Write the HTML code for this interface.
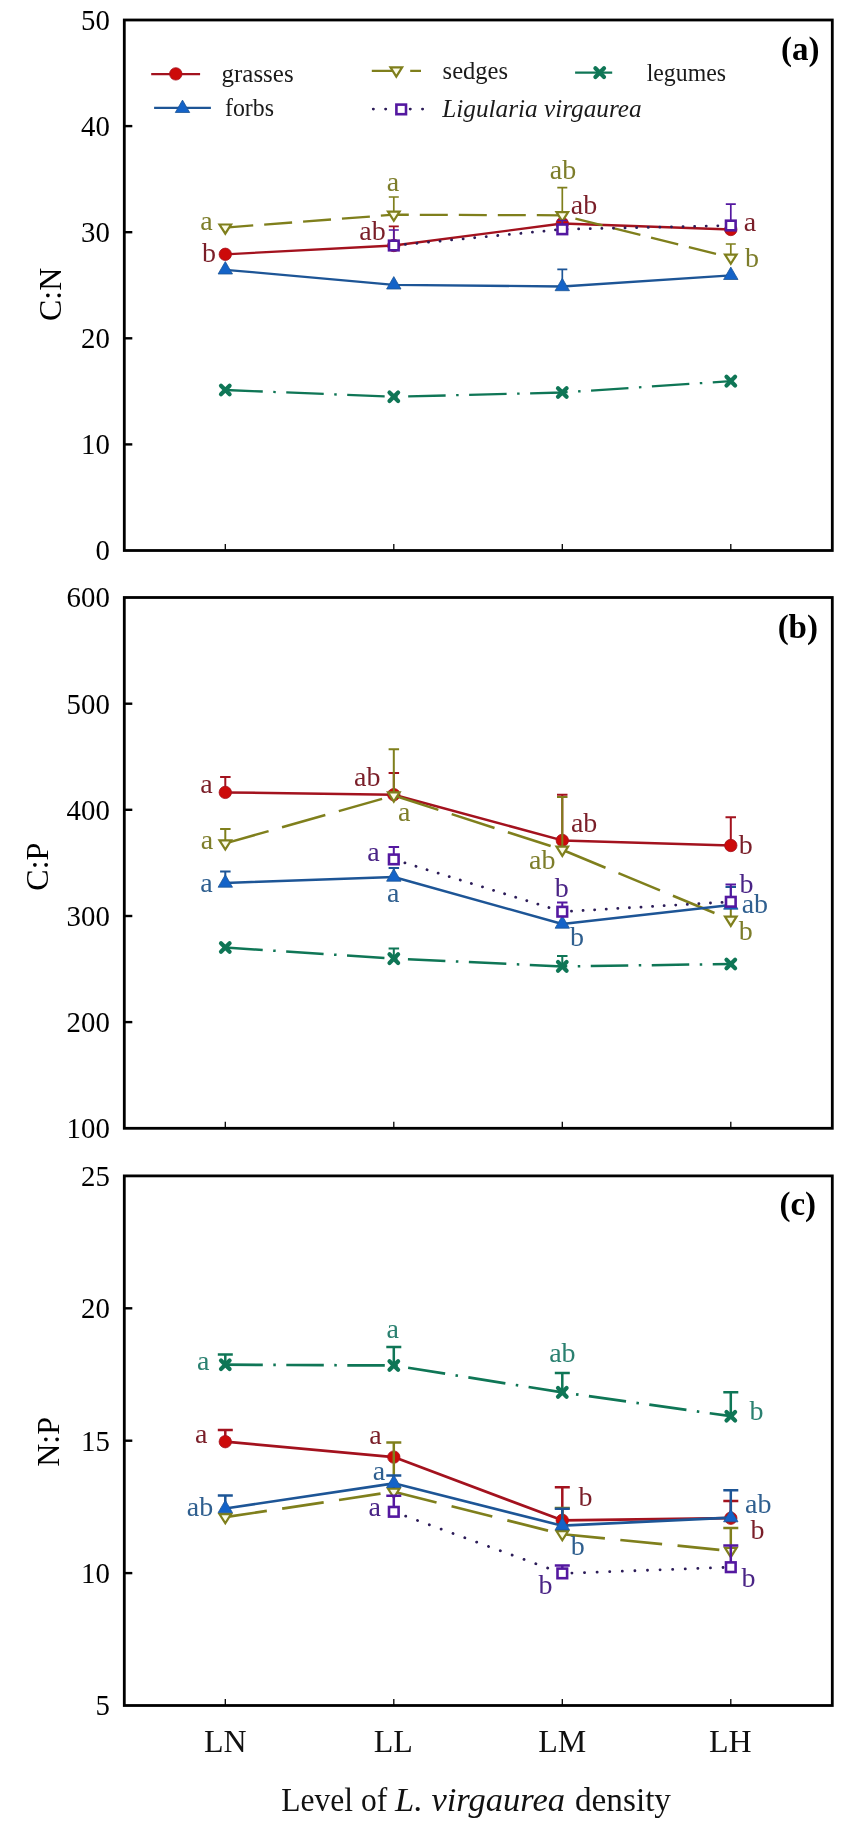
<!DOCTYPE html><html><head><meta charset="utf-8"><title>Figure</title>
<style>html,body{margin:0;padding:0;background:#fff;}body{width:844px;height:1830px;overflow:hidden;}svg{display:block;font-family:"Liberation Serif", serif;filter:blur(0.45px);}</style></head><body>
<svg width="844" height="1830" viewBox="0 0 844 1830">
<rect width="844" height="1830" fill="#fff"/>
<path d="M393.8,245.5V226.3M388.8,226.3H398.8" stroke="#a3121e" stroke-width="1.7" fill="none"/>
<polyline points="225.3,254.3 393.8,245.5 562.3,223.5 730.8,229.5" fill="none" stroke="#a3121e" stroke-width="2.3" stroke-linejoin="round" stroke-linecap="butt"/>
<circle cx="225.3" cy="254.3" r="6.2" fill="#cc0a0a" stroke="#a3121e" stroke-width="0.8"/>
<circle cx="393.8" cy="245.5" r="6.2" fill="#cc0a0a" stroke="#a3121e" stroke-width="0.8"/>
<circle cx="562.3" cy="223.5" r="6.2" fill="#cc0a0a" stroke="#a3121e" stroke-width="0.8"/>
<circle cx="730.8" cy="229.5" r="6.2" fill="#cc0a0a" stroke="#a3121e" stroke-width="0.8"/>
<path d="M393.8,214.7V197.0M388.8,197.0H398.8" stroke="#7f7f1c" stroke-width="1.7" fill="none"/>
<path d="M562.3,215.3V187.7M557.3,187.7H567.3" stroke="#7f7f1c" stroke-width="1.7" fill="none"/>
<path d="M730.8,257.7V244.0M725.8,244.0H735.8" stroke="#7f7f1c" stroke-width="1.7" fill="none"/>
<polyline points="225.3,227.6 393.8,214.7 562.3,215.3 730.8,257.7" fill="none" stroke="#7f7f1c" stroke-width="2.3" stroke-linejoin="round" stroke-linecap="butt" stroke-dasharray="28 11"/>
<polygon points="219.5,224.5 231.1,224.5 225.3,233.7" fill="#fbfbe6" stroke="#7f7f1c" stroke-width="2.2" stroke-linejoin="miter"/>
<polygon points="388.0,211.6 399.6,211.6 393.8,220.8" fill="#fbfbe6" stroke="#7f7f1c" stroke-width="2.2" stroke-linejoin="miter"/>
<polygon points="556.5,212.2 568.1,212.2 562.3,221.4" fill="#fbfbe6" stroke="#7f7f1c" stroke-width="2.2" stroke-linejoin="miter"/>
<polygon points="725.0,254.6 736.6,254.6 730.8,263.8" fill="#fbfbe6" stroke="#7f7f1c" stroke-width="2.2" stroke-linejoin="miter"/>
<path d="M562.3,286.5V269.4M557.3,269.4H567.3" stroke="#1d5596" stroke-width="1.7" fill="none"/>
<polyline points="225.3,269.8 393.8,284.8 562.3,286.5 730.8,275.3" fill="none" stroke="#1d5596" stroke-width="2.3" stroke-linejoin="round" stroke-linecap="butt"/>
<polygon points="225.3,261.6 218.1,274.0 232.5,274.0" fill="#1463c8" stroke="#1d5596" stroke-width="0.8" stroke-linejoin="round"/>
<polygon points="393.8,276.6 386.6,289.0 401.0,289.0" fill="#1463c8" stroke="#1d5596" stroke-width="0.8" stroke-linejoin="round"/>
<polygon points="562.3,278.3 555.1,290.7 569.5,290.7" fill="#1463c8" stroke="#1d5596" stroke-width="0.8" stroke-linejoin="round"/>
<polygon points="730.8,267.1 723.6,279.5 738.0,279.5" fill="#1463c8" stroke="#1d5596" stroke-width="0.8" stroke-linejoin="round"/>
<polyline points="225.3,390.0 393.8,396.8 562.3,392.5 730.8,381.1" fill="none" stroke="#0f7656" stroke-width="2.3" stroke-linejoin="round" stroke-linecap="butt" stroke-dasharray="37.5 10.5 2.5 10.5"/>
<path d="M221.0,385.7L229.6,394.3M229.6,385.7L221.0,394.3" stroke="#0f7656" stroke-width="4.2" stroke-linecap="round" fill="none"/>
<path d="M389.5,392.5L398.1,401.1M398.1,392.5L389.5,401.1" stroke="#0f7656" stroke-width="4.2" stroke-linecap="round" fill="none"/>
<path d="M558.0,388.2L566.6,396.8M566.6,388.2L558.0,396.8" stroke="#0f7656" stroke-width="4.2" stroke-linecap="round" fill="none"/>
<path d="M726.5,376.8L735.1,385.4M735.1,376.8L726.5,385.4" stroke="#0f7656" stroke-width="4.2" stroke-linecap="round" fill="none"/>
<path d="M393.8,245.5V230.0M388.8,230.0H398.8" stroke="#5418a0" stroke-width="1.7" fill="none"/>
<path d="M562.3,229.3V220.5M557.3,220.5H567.3" stroke="#5418a0" stroke-width="1.7" fill="none"/>
<path d="M730.8,225.5V204.2M725.8,204.2H735.8" stroke="#5418a0" stroke-width="1.7" fill="none"/>
<polyline points="393.8,245.5 562.3,229.3 730.8,225.5" fill="none" stroke="#2c1c58" stroke-width="2.8" stroke-linejoin="round" stroke-linecap="round" stroke-dasharray="0.1 11.5"/>
<rect x="389.0" y="240.7" width="9.6" height="9.6" fill="#ffffff" stroke="#5418a0" stroke-width="2.6"/>
<rect x="557.5" y="224.5" width="9.6" height="9.6" fill="#ffffff" stroke="#5418a0" stroke-width="2.6"/>
<rect x="726.0" y="220.7" width="9.6" height="9.6" fill="#ffffff" stroke="#5418a0" stroke-width="2.6"/>
<text x="206.5" y="229.5" fill="#7d7d2a" font-size="28" text-anchor="middle">a</text>
<text x="209.0" y="262.0" fill="#7a1e28" font-size="28" text-anchor="middle">b</text>
<text x="393.0" y="191.0" fill="#7d7d2a" font-size="28" text-anchor="middle">a</text>
<text x="372.5" y="240.0" fill="#7a1e28" font-size="28" text-anchor="middle">ab</text>
<text x="563.0" y="179.0" fill="#7d7d2a" font-size="28" text-anchor="middle">ab</text>
<text x="584.0" y="214.0" fill="#7a1e28" font-size="28" text-anchor="middle">ab</text>
<text x="750.0" y="231.0" fill="#7a1e28" font-size="28" text-anchor="middle">a</text>
<text x="752.0" y="267.0" fill="#7d7d2a" font-size="28" text-anchor="middle">b</text>
<rect x="124.3" y="20.0" width="708.0" height="530.5" fill="none" stroke="#000" stroke-width="2.8"/>
<text transform="translate(109.8,560.4) scale(0.96,1)" fill="#000" font-size="30" text-anchor="end">0</text>
<path d="M124.3,444.4H132.3" stroke="#000" stroke-width="2.4"/>
<text transform="translate(109.8,454.3) scale(0.96,1)" fill="#000" font-size="30" text-anchor="end">10</text>
<path d="M124.3,338.3H132.3" stroke="#000" stroke-width="2.4"/>
<text transform="translate(109.8,348.2) scale(0.96,1)" fill="#000" font-size="30" text-anchor="end">20</text>
<path d="M124.3,232.2H132.3" stroke="#000" stroke-width="2.4"/>
<text transform="translate(109.8,242.1) scale(0.96,1)" fill="#000" font-size="30" text-anchor="end">30</text>
<path d="M124.3,126.1H132.3" stroke="#000" stroke-width="2.4"/>
<text transform="translate(109.8,136.0) scale(0.96,1)" fill="#000" font-size="30" text-anchor="end">40</text>
<text transform="translate(109.8,29.9) scale(0.96,1)" fill="#000" font-size="30" text-anchor="end">50</text>
<path d="M225.3,550.5V544.0" stroke="#000" stroke-width="1.3"/>
<path d="M393.8,550.5V544.0" stroke="#000" stroke-width="1.3"/>
<path d="M562.3,550.5V544.0" stroke="#000" stroke-width="1.3"/>
<path d="M730.8,550.5V544.0" stroke="#000" stroke-width="1.3"/>
<text transform="translate(61.0,294.3) rotate(-90)" font-size="32" text-anchor="middle" fill="#000">C:N</text>
<text x="800.2" y="60.3" fill="#000" font-size="33" text-anchor="middle" font-weight="bold">(a)</text>
<path d="M225.3,792.4V777.0M220.1,777.0H230.6" stroke="#a3121e" stroke-width="2.0" fill="none"/>
<path d="M393.8,794.7V773.1M388.6,773.1H399.1" stroke="#a3121e" stroke-width="2.0" fill="none"/>
<path d="M562.3,840.4V794.8M557.0,794.8H567.5" stroke="#a3121e" stroke-width="2.0" fill="none"/>
<path d="M730.8,845.5V817.3M725.5,817.3H736.0" stroke="#a3121e" stroke-width="2.0" fill="none"/>
<polyline points="225.3,792.4 393.8,794.7 562.3,840.4 730.8,845.5" fill="none" stroke="#a3121e" stroke-width="2.5" stroke-linejoin="round" stroke-linecap="butt"/>
<circle cx="225.3" cy="792.4" r="6.2" fill="#cc0a0a" stroke="#a3121e" stroke-width="0.8"/>
<circle cx="393.8" cy="794.7" r="6.2" fill="#cc0a0a" stroke="#a3121e" stroke-width="0.8"/>
<circle cx="562.3" cy="840.4" r="6.2" fill="#cc0a0a" stroke="#a3121e" stroke-width="0.8"/>
<circle cx="730.8" cy="845.5" r="6.2" fill="#cc0a0a" stroke="#a3121e" stroke-width="0.8"/>
<path d="M225.3,843.4V829.0M220.1,829.0H230.6" stroke="#7f7f1c" stroke-width="2.0" fill="none"/>
<path d="M393.8,795.5V749.3M388.6,749.3H399.1" stroke="#7f7f1c" stroke-width="2.0" fill="none"/>
<path d="M562.3,849.8V797.0M557.0,797.0H567.5" stroke="#7f7f1c" stroke-width="2.0" fill="none"/>
<path d="M730.8,919.8V905.0M725.5,905.0H736.0" stroke="#7f7f1c" stroke-width="2.0" fill="none"/>
<polyline points="225.3,843.4 393.8,795.5 562.3,849.8 730.8,919.8" fill="none" stroke="#7f7f1c" stroke-width="2.5" stroke-linejoin="round" stroke-linecap="butt" stroke-dasharray="45 14"/>
<polygon points="219.5,840.3 231.1,840.3 225.3,849.5" fill="#fbfbe6" stroke="#7f7f1c" stroke-width="2.2" stroke-linejoin="miter"/>
<polygon points="388.0,792.4 399.6,792.4 393.8,801.6" fill="#fbfbe6" stroke="#7f7f1c" stroke-width="2.2" stroke-linejoin="miter"/>
<polygon points="556.5,846.7 568.1,846.7 562.3,855.9" fill="#fbfbe6" stroke="#7f7f1c" stroke-width="2.2" stroke-linejoin="miter"/>
<polygon points="725.0,916.7 736.6,916.7 730.8,925.9" fill="#fbfbe6" stroke="#7f7f1c" stroke-width="2.2" stroke-linejoin="miter"/>
<path d="M225.3,883.0V871.6M220.1,871.6H230.6" stroke="#1d5596" stroke-width="2.0" fill="none"/>
<path d="M393.8,877.0V868.0M388.6,868.0H399.1" stroke="#1d5596" stroke-width="2.0" fill="none"/>
<path d="M730.8,905.0V887.0M725.5,887.0H736.0" stroke="#1d5596" stroke-width="2.0" fill="none"/>
<polyline points="225.3,883.0 393.8,877.0 562.3,924.0 730.8,905.0" fill="none" stroke="#1d5596" stroke-width="2.5" stroke-linejoin="round" stroke-linecap="butt"/>
<polygon points="225.3,874.8 218.1,887.2 232.5,887.2" fill="#1463c8" stroke="#1d5596" stroke-width="0.8" stroke-linejoin="round"/>
<polygon points="393.8,868.8 386.6,881.2 401.0,881.2" fill="#1463c8" stroke="#1d5596" stroke-width="0.8" stroke-linejoin="round"/>
<polygon points="562.3,915.8 555.1,928.2 569.5,928.2" fill="#1463c8" stroke="#1d5596" stroke-width="0.8" stroke-linejoin="round"/>
<polygon points="730.8,896.8 723.6,909.2 738.0,909.2" fill="#1463c8" stroke="#1d5596" stroke-width="0.8" stroke-linejoin="round"/>
<path d="M393.8,958.6V948.6M388.6,948.6H399.1" stroke="#0f7656" stroke-width="2.0" fill="none"/>
<path d="M562.3,966.4V956.0M557.0,956.0H567.5" stroke="#0f7656" stroke-width="2.0" fill="none"/>
<polyline points="225.3,947.5 393.8,958.6 562.3,966.4 730.8,964.0" fill="none" stroke="#0f7656" stroke-width="2.5" stroke-linejoin="round" stroke-linecap="butt" stroke-dasharray="37.5 10.5 2.5 10.5"/>
<path d="M221.0,943.2L229.6,951.8M229.6,943.2L221.0,951.8" stroke="#0f7656" stroke-width="4.2" stroke-linecap="round" fill="none"/>
<path d="M389.5,954.3L398.1,962.9M398.1,954.3L389.5,962.9" stroke="#0f7656" stroke-width="4.2" stroke-linecap="round" fill="none"/>
<path d="M558.0,962.1L566.6,970.7M566.6,962.1L558.0,970.7" stroke="#0f7656" stroke-width="4.2" stroke-linecap="round" fill="none"/>
<path d="M726.5,959.7L735.1,968.3M735.1,959.7L726.5,968.3" stroke="#0f7656" stroke-width="4.2" stroke-linecap="round" fill="none"/>
<path d="M393.8,859.4V847.1M388.6,847.1H399.1" stroke="#5418a0" stroke-width="2.0" fill="none"/>
<path d="M562.3,911.7V902.6M557.0,902.6H567.5" stroke="#5418a0" stroke-width="2.0" fill="none"/>
<path d="M730.8,901.8V884.4M725.5,884.4H736.0" stroke="#5418a0" stroke-width="2.0" fill="none"/>
<polyline points="393.8,859.4 562.3,911.7 730.8,901.8" fill="none" stroke="#2c1c58" stroke-width="2.8" stroke-linejoin="round" stroke-linecap="round" stroke-dasharray="0.1 11.5"/>
<rect x="389.0" y="854.6" width="9.6" height="9.6" fill="#ffffff" stroke="#5418a0" stroke-width="2.6"/>
<rect x="557.5" y="906.9" width="9.6" height="9.6" fill="#ffffff" stroke="#5418a0" stroke-width="2.6"/>
<rect x="726.0" y="897.0" width="9.6" height="9.6" fill="#ffffff" stroke="#5418a0" stroke-width="2.6"/>
<text x="206.5" y="793.4" fill="#7a1e28" font-size="28" text-anchor="middle">a</text>
<text x="207.0" y="849.0" fill="#7d7d2a" font-size="28" text-anchor="middle">a</text>
<text x="206.5" y="892.0" fill="#2f5f8f" font-size="28" text-anchor="middle">a</text>
<text x="367.3" y="786.0" fill="#7a1e28" font-size="28" text-anchor="middle">ab</text>
<text x="404.3" y="821.0" fill="#7d7d2a" font-size="28" text-anchor="middle">a</text>
<text x="373.5" y="860.8" fill="#4a2486" font-size="28" text-anchor="middle">a</text>
<text x="393.2" y="902.0" fill="#2f5f8f" font-size="28" text-anchor="middle">a</text>
<text x="584.1" y="832.0" fill="#7a1e28" font-size="28" text-anchor="middle">ab</text>
<text x="542.3" y="869.0" fill="#7d7d2a" font-size="28" text-anchor="middle">ab</text>
<text x="561.8" y="897.0" fill="#4a2486" font-size="28" text-anchor="middle">b</text>
<text x="577.1" y="946.0" fill="#2f5f8f" font-size="28" text-anchor="middle">b</text>
<text x="745.8" y="854.0" fill="#7a1e28" font-size="28" text-anchor="middle">b</text>
<text x="746.6" y="893.0" fill="#4a2486" font-size="28" text-anchor="middle">b</text>
<text x="754.9" y="913.0" fill="#2f5f8f" font-size="28" text-anchor="middle">ab</text>
<text x="745.8" y="940.0" fill="#7d7d2a" font-size="28" text-anchor="middle">b</text>
<rect x="124.3" y="597.5" width="708.0" height="530.8" fill="none" stroke="#000" stroke-width="2.8"/>
<text transform="translate(109.8,1138.2) scale(0.96,1)" fill="#000" font-size="30" text-anchor="end">100</text>
<path d="M124.3,1022.1H132.3" stroke="#000" stroke-width="2.4"/>
<text transform="translate(109.8,1032.0) scale(0.96,1)" fill="#000" font-size="30" text-anchor="end">200</text>
<path d="M124.3,916.0H132.3" stroke="#000" stroke-width="2.4"/>
<text transform="translate(109.8,925.9) scale(0.96,1)" fill="#000" font-size="30" text-anchor="end">300</text>
<path d="M124.3,809.8H132.3" stroke="#000" stroke-width="2.4"/>
<text transform="translate(109.8,819.7) scale(0.96,1)" fill="#000" font-size="30" text-anchor="end">400</text>
<path d="M124.3,703.7H132.3" stroke="#000" stroke-width="2.4"/>
<text transform="translate(109.8,713.6) scale(0.96,1)" fill="#000" font-size="30" text-anchor="end">500</text>
<text transform="translate(109.8,607.4) scale(0.96,1)" fill="#000" font-size="30" text-anchor="end">600</text>
<path d="M225.3,1128.3V1121.8" stroke="#000" stroke-width="1.3"/>
<path d="M393.8,1128.3V1121.8" stroke="#000" stroke-width="1.3"/>
<path d="M562.3,1128.3V1121.8" stroke="#000" stroke-width="1.3"/>
<path d="M730.8,1128.3V1121.8" stroke="#000" stroke-width="1.3"/>
<text transform="translate(47.8,866.7) rotate(-90)" font-size="32" text-anchor="middle" fill="#000">C:P</text>
<text x="797.8" y="638.0" fill="#000" font-size="33" text-anchor="middle" font-weight="bold">(b)</text>
<path d="M225.3,1441.7V1430.1M217.8,1430.1H232.8" stroke="#a3121e" stroke-width="2.5" fill="none"/>
<path d="M562.3,1520.3V1487.2M554.8,1487.2H569.8" stroke="#a3121e" stroke-width="2.5" fill="none"/>
<path d="M730.8,1518.2V1501.0M723.3,1501.0H738.3" stroke="#a3121e" stroke-width="2.5" fill="none"/>
<polyline points="225.3,1441.7 393.8,1457.1 562.3,1520.3 730.8,1518.2" fill="none" stroke="#a3121e" stroke-width="2.7" stroke-linejoin="round" stroke-linecap="butt"/>
<circle cx="225.3" cy="1441.7" r="6.2" fill="#cc0a0a" stroke="#a3121e" stroke-width="0.8"/>
<circle cx="393.8" cy="1457.1" r="6.2" fill="#cc0a0a" stroke="#a3121e" stroke-width="0.8"/>
<circle cx="562.3" cy="1520.3" r="6.2" fill="#cc0a0a" stroke="#a3121e" stroke-width="0.8"/>
<circle cx="730.8" cy="1518.2" r="6.2" fill="#cc0a0a" stroke="#a3121e" stroke-width="0.8"/>
<path d="M393.8,1491.7V1442.5M386.3,1442.5H401.3" stroke="#7f7f1c" stroke-width="2.5" fill="none"/>
<path d="M562.3,1534.2V1508.0M554.8,1508.0H569.8" stroke="#7f7f1c" stroke-width="2.5" fill="none"/>
<path d="M730.8,1551.0V1527.9M723.3,1527.9H738.3" stroke="#7f7f1c" stroke-width="2.5" fill="none"/>
<polyline points="225.3,1517.2 393.8,1491.7 562.3,1534.2 730.8,1551.0" fill="none" stroke="#7f7f1c" stroke-width="2.7" stroke-linejoin="round" stroke-linecap="butt" stroke-dasharray="42 15.5"/>
<polygon points="219.5,1514.1 231.1,1514.1 225.3,1523.3" fill="#fbfbe6" stroke="#7f7f1c" stroke-width="2.2" stroke-linejoin="miter"/>
<polygon points="388.0,1488.6 399.6,1488.6 393.8,1497.8" fill="#fbfbe6" stroke="#7f7f1c" stroke-width="2.2" stroke-linejoin="miter"/>
<polygon points="556.5,1531.1 568.1,1531.1 562.3,1540.3" fill="#fbfbe6" stroke="#7f7f1c" stroke-width="2.2" stroke-linejoin="miter"/>
<polygon points="725.0,1547.9 736.6,1547.9 730.8,1557.1" fill="#fbfbe6" stroke="#7f7f1c" stroke-width="2.2" stroke-linejoin="miter"/>
<path d="M225.3,1508.5V1495.6M217.8,1495.6H232.8" stroke="#1d5596" stroke-width="2.5" fill="none"/>
<path d="M393.8,1483.3V1475.6M386.3,1475.6H401.3" stroke="#1d5596" stroke-width="2.5" fill="none"/>
<path d="M562.3,1525.7V1508.7M554.8,1508.7H569.8" stroke="#1d5596" stroke-width="2.5" fill="none"/>
<path d="M730.8,1517.6V1490.2M723.3,1490.2H738.3" stroke="#1d5596" stroke-width="2.5" fill="none"/>
<polyline points="225.3,1508.5 393.8,1483.3 562.3,1525.7 730.8,1517.6" fill="none" stroke="#1d5596" stroke-width="2.7" stroke-linejoin="round" stroke-linecap="butt"/>
<polygon points="225.3,1500.3 218.1,1512.7 232.5,1512.7" fill="#1463c8" stroke="#1d5596" stroke-width="0.8" stroke-linejoin="round"/>
<polygon points="393.8,1475.1 386.6,1487.5 401.0,1487.5" fill="#1463c8" stroke="#1d5596" stroke-width="0.8" stroke-linejoin="round"/>
<polygon points="562.3,1517.5 555.1,1529.9 569.5,1529.9" fill="#1463c8" stroke="#1d5596" stroke-width="0.8" stroke-linejoin="round"/>
<polygon points="730.8,1509.4 723.6,1521.8 738.0,1521.8" fill="#1463c8" stroke="#1d5596" stroke-width="0.8" stroke-linejoin="round"/>
<path d="M225.3,1364.7V1354.6M217.8,1354.6H232.8" stroke="#0f7656" stroke-width="2.5" fill="none"/>
<path d="M393.8,1365.5V1347.0M386.3,1347.0H401.3" stroke="#0f7656" stroke-width="2.5" fill="none"/>
<path d="M562.3,1392.4V1373.1M554.8,1373.1H569.8" stroke="#0f7656" stroke-width="2.5" fill="none"/>
<path d="M730.8,1416.2V1392.3M723.3,1392.3H738.3" stroke="#0f7656" stroke-width="2.5" fill="none"/>
<polyline points="225.3,1364.7 393.8,1365.5 562.3,1392.4 730.8,1416.2" fill="none" stroke="#0f7656" stroke-width="2.7" stroke-linejoin="round" stroke-linecap="butt" stroke-dasharray="37.5 10.5 2.5 10.5"/>
<path d="M221.0,1360.4L229.6,1369.0M229.6,1360.4L221.0,1369.0" stroke="#0f7656" stroke-width="4.2" stroke-linecap="round" fill="none"/>
<path d="M389.5,1361.2L398.1,1369.8M398.1,1361.2L389.5,1369.8" stroke="#0f7656" stroke-width="4.2" stroke-linecap="round" fill="none"/>
<path d="M558.0,1388.1L566.6,1396.7M566.6,1388.1L558.0,1396.7" stroke="#0f7656" stroke-width="4.2" stroke-linecap="round" fill="none"/>
<path d="M726.5,1411.9L735.1,1420.5M735.1,1411.9L726.5,1420.5" stroke="#0f7656" stroke-width="4.2" stroke-linecap="round" fill="none"/>
<path d="M393.8,1511.8V1495.7M386.3,1495.7H401.3" stroke="#5418a0" stroke-width="2.5" fill="none"/>
<path d="M562.3,1573.4V1565.5M554.8,1565.5H569.8" stroke="#5418a0" stroke-width="2.5" fill="none"/>
<path d="M730.8,1567.2V1545.6M723.3,1545.6H738.3" stroke="#5418a0" stroke-width="2.5" fill="none"/>
<polyline points="393.8,1511.8 562.3,1573.4 730.8,1567.2" fill="none" stroke="#2c1c58" stroke-width="2.8" stroke-linejoin="round" stroke-linecap="round" stroke-dasharray="0.1 12.5"/>
<rect x="389.0" y="1507.0" width="9.6" height="9.6" fill="#ffffff" stroke="#5418a0" stroke-width="2.6"/>
<rect x="557.5" y="1568.6" width="9.6" height="9.6" fill="#ffffff" stroke="#5418a0" stroke-width="2.6"/>
<rect x="726.0" y="1562.4" width="9.6" height="9.6" fill="#ffffff" stroke="#5418a0" stroke-width="2.6"/>
<text x="203.1" y="1370.0" fill="#2a8070" font-size="28" text-anchor="middle">a</text>
<text x="201.2" y="1443.0" fill="#7a1e28" font-size="28" text-anchor="middle">a</text>
<text x="200.0" y="1516.0" fill="#2f5f8f" font-size="28" text-anchor="middle">ab</text>
<text x="392.8" y="1338.0" fill="#2a8070" font-size="28" text-anchor="middle">a</text>
<text x="375.4" y="1444.0" fill="#7a1e28" font-size="28" text-anchor="middle">a</text>
<text x="379.0" y="1480.0" fill="#2f5f8f" font-size="28" text-anchor="middle">a</text>
<text x="374.6" y="1516.0" fill="#4a2486" font-size="28" text-anchor="middle">a</text>
<text x="562.4" y="1362.0" fill="#2a8070" font-size="28" text-anchor="middle">ab</text>
<text x="585.5" y="1506.0" fill="#7a1e28" font-size="28" text-anchor="middle">b</text>
<text x="577.8" y="1555.0" fill="#2f5f8f" font-size="28" text-anchor="middle">b</text>
<text x="545.4" y="1593.5" fill="#4a2486" font-size="28" text-anchor="middle">b</text>
<text x="756.6" y="1420.0" fill="#2a8070" font-size="28" text-anchor="middle">b</text>
<text x="758.2" y="1513.0" fill="#2f5f8f" font-size="28" text-anchor="middle">ab</text>
<text x="757.4" y="1539.0" fill="#7a1e28" font-size="28" text-anchor="middle">b</text>
<text x="748.5" y="1587.0" fill="#4a2486" font-size="28" text-anchor="middle">b</text>
<rect x="124.3" y="1175.9" width="708.0" height="529.6" fill="none" stroke="#000" stroke-width="2.8"/>
<text transform="translate(109.8,1715.4) scale(0.96,1)" fill="#000" font-size="30" text-anchor="end">5</text>
<path d="M124.3,1573.1H132.3" stroke="#000" stroke-width="2.4"/>
<text transform="translate(109.8,1583.0) scale(0.96,1)" fill="#000" font-size="30" text-anchor="end">10</text>
<path d="M124.3,1440.7H132.3" stroke="#000" stroke-width="2.4"/>
<text transform="translate(109.8,1450.6) scale(0.96,1)" fill="#000" font-size="30" text-anchor="end">15</text>
<path d="M124.3,1308.3H132.3" stroke="#000" stroke-width="2.4"/>
<text transform="translate(109.8,1318.2) scale(0.96,1)" fill="#000" font-size="30" text-anchor="end">20</text>
<text transform="translate(109.8,1185.8) scale(0.96,1)" fill="#000" font-size="30" text-anchor="end">25</text>
<path d="M225.3,1705.5V1699.0" stroke="#000" stroke-width="1.3"/>
<path d="M393.8,1705.5V1699.0" stroke="#000" stroke-width="1.3"/>
<path d="M562.3,1705.5V1699.0" stroke="#000" stroke-width="1.3"/>
<path d="M730.8,1705.5V1699.0" stroke="#000" stroke-width="1.3"/>
<text transform="translate(58.6,1441.9) rotate(-90)" font-size="32" text-anchor="middle" fill="#000">N:P</text>
<text x="797.8" y="1214.5" fill="#000" font-size="33" text-anchor="middle" font-weight="bold">(c)</text>
<path d="M151.2,74.1H200.1" stroke="#a3121e" stroke-width="2.3"/>
<circle cx="175.8" cy="73.9" r="6.2" fill="#cc0a0a" stroke="#a3121e" stroke-width="0.8"/>
<text x="221.6" y="82.4" fill="#1a1a1a" font-size="25" text-anchor="start" textLength="72" lengthAdjust="spacingAndGlyphs">grasses</text>
<path d="M154.1,107.9H210.9" stroke="#1d5596" stroke-width="2.3"/>
<polygon points="182.5,100.1 175.3,112.5 189.7,112.5" fill="#1463c8" stroke="#1d5596" stroke-width="0.8" stroke-linejoin="round"/>
<text x="225.0" y="115.8" fill="#1a1a1a" font-size="25" text-anchor="start" textLength="49" lengthAdjust="spacingAndGlyphs">forbs</text>
<path d="M371.8,70.9H397M410.2,70.9H421" stroke="#7f7f1c" stroke-width="2.3"/>
<polygon points="390.5,67.4 402.1,67.4 396.3,76.6" fill="#fbfbe6" stroke="#7f7f1c" stroke-width="2.2" stroke-linejoin="miter"/>
<text x="442.6" y="78.8" fill="#1a1a1a" font-size="25" text-anchor="start" textLength="65.5" lengthAdjust="spacingAndGlyphs">sedges</text>
<path d="M373.3,109.1H423" stroke="#2c1c58" stroke-width="2.9" stroke-dasharray="0.1 12.2" stroke-linecap="round"/>
<rect x="396.4" y="104.6" width="9.6" height="9.6" fill="#ffffff" stroke="#5418a0" stroke-width="2.6"/>
<text x="442.2" y="117.0" fill="#1a1a1a" font-size="25" text-anchor="start" font-style="italic" textLength="199.5" lengthAdjust="spacingAndGlyphs">Ligularia virgaurea</text>
<path d="M575.1,72.6H612.2" stroke="#0f7656" stroke-width="2.3"/>
<path d="M595.4,68.3L604.0,76.9M604.0,68.3L595.4,76.9" stroke="#0f7656" stroke-width="4.2" stroke-linecap="round" fill="none"/>
<text x="646.7" y="80.5" fill="#1a1a1a" font-size="25" text-anchor="start" textLength="79.3" lengthAdjust="spacingAndGlyphs">legumes</text>
<text x="225.4" y="1751.6" fill="#111" font-size="32" text-anchor="middle">LN</text>
<text x="393.2" y="1751.6" fill="#111" font-size="32" text-anchor="middle">LL</text>
<text x="562.2" y="1751.6" fill="#111" font-size="32" text-anchor="middle">LM</text>
<text x="730.4" y="1751.6" fill="#111" font-size="32" text-anchor="middle">LH</text>
<text y="1810.5" font-size="33.5" fill="#111"><tspan x="281.2" textLength="106" lengthAdjust="spacingAndGlyphs">Level of</tspan><tspan x="395.0" font-style="italic" textLength="170" lengthAdjust="spacingAndGlyphs">L. virgaurea</tspan><tspan x="575.0" textLength="96" lengthAdjust="spacingAndGlyphs">density</tspan></text>
</svg></body></html>
